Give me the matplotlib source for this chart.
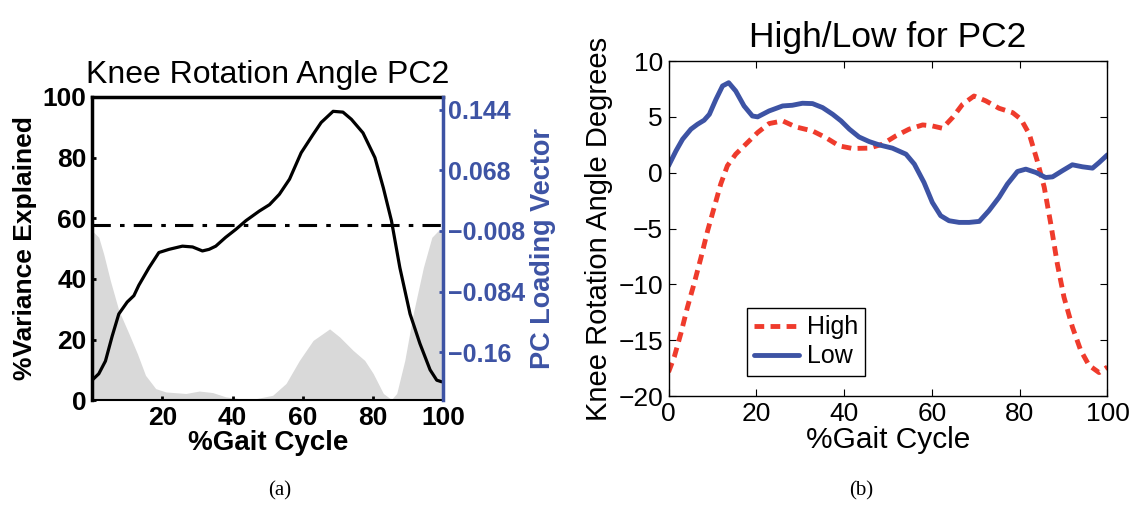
import matplotlib
matplotlib.use('Agg')
import matplotlib.pyplot as plt

plt.rcParams['font.family'] = ['Liberation Sans', 'DejaVu Sans']
plt.rcParams['lines.solid_joinstyle'] = 'round'
plt.rcParams['lines.solid_capstyle'] = 'round'

# panel (a): knee rotation PC2
gait_var = [0, 1.9, 3.3, 5.2, 7.6, 10.5, 12.9, 15.2, 18.1, 21, 26.7, 30.5, 34.3, 38, 41.9,
            46.7, 51.4, 55.2, 59, 62.9, 67.6, 70.5, 74.3, 77.6, 80, 82.9, 85.2, 86.7, 89,
            91.4, 94.3, 96.7, 98.6, 100]
var_explained = [55.9, 53.7, 48.2, 39.4, 29.6, 21.9, 15.3, 8.2, 3.8, 2.7, 2.2, 3.0, 2.5, 1.1, 0.5,
                 0.5, 1.6, 5.5, 13.1, 19.7, 23.5, 20.8, 16.4, 13.1, 8.8, 2.2, 0.2, 2.2, 13.1,
                 28.5, 43.8, 53.7, 56, 56]

gait_load = [0, 1.9, 3.8, 5.7, 7.6, 10, 11.9, 13.3, 16.2, 19, 21.9, 25.7, 28.6, 31.4, 33.3,
             35.2, 38, 40.9, 43.8, 47.6, 50.5, 53.3, 56.2, 59.5, 62.9, 65.2, 68.6, 71.4, 73.8,
             77.1, 80.5, 82.9, 85.2, 87.6, 90.5, 93.3, 96.2, 98.1, 99.5]
loading = [-0.195, -0.187, -0.171, -0.140, -0.112, -0.097, -0.089, -0.076, -0.054, -0.035,
           -0.031, -0.027, -0.028, -0.033, -0.031, -0.027, -0.016, -0.006, 0.005, 0.017,
           0.025, 0.038, 0.057, 0.090, 0.113, 0.128, 0.142, 0.141, 0.132, 0.115, 0.084,
           0.046, 0.005, -0.054, -0.112, -0.149, -0.182, -0.195, -0.197]
load_ticks = [0.144, 0.068, -0.008, -0.084, -0.16]
load_labels = ['0.144', '0.068', '\u22120.008', '\u22120.084', '\u22120.16']

# panel (b): high / low
gait_high = [0, 1.3, 2.8, 4.3, 5.8, 7.4, 8.9, 10.4, 11.9, 13.4, 15.3, 17.6, 20.3, 22.9, 26,
             29, 32.8, 35.8, 38.9, 41.9, 45.7, 48.7, 51.8, 54.8, 57.9, 60.1, 62.4, 64.7, 67,
             69.6, 72.3, 75.3, 78.4, 80.3, 82.2, 84, 85.6, 87.1, 88.6, 90.1, 92, 93.9, 95.8,
             98.1, 100]
high = [-17.85, -16.5, -14.4, -12.05, -9.96, -7.58, -5.2, -3.1, -1.0, 0.62, 1.66, 2.55, 3.6,
        4.4, 4.64, 4.1, 3.74, 3.15, 2.4, 2.17, 2.2, 2.55, 3.3, 3.9, 4.28, 4.19, 3.98, 4.94,
        6.13, 6.87, 6.43, 5.77, 5.38, 4.79, 3.45, 1.07, -1.3, -4.6, -8.2, -11.15, -13.8,
        -15.9, -17.25, -17.9, -17.4]
gait_low = [0, 1.7, 3.2, 5.1, 6.6, 8.1, 9.3, 10.8, 12.3, 13.7, 15.3, 17.2, 19.1, 20.3, 22.9,
            26, 28.2, 30.5, 32.8, 35.1, 37.4, 39.3, 41.2, 43.4, 45.7, 48, 51, 54.1, 56, 58.2,
            60.1, 62, 63.9, 66.2, 68.5, 70.8, 73, 75.3, 77.2, 79.5, 81.4, 83.7, 85.9, 87.5,
            89.7, 92, 94.3, 96.6, 98.1, 100]
low = [0.62, 1.96, 3.0, 3.9, 4.34, 4.7, 5.23, 6.57, 7.77, 8.06, 7.32, 5.98, 5.08, 5.0, 5.53,
       5.98, 6.04, 6.22, 6.19, 5.83, 5.23, 4.64, 3.9, 3.2, 2.79, 2.49, 2.2, 1.66, 0.77, -0.87,
       -2.66, -3.85, -4.3, -4.45, -4.45, -4.36, -3.4, -2.21, -1.02, 0.11, 0.32, 0.02, -0.43,
       -0.37, 0.17, 0.71, 0.53, 0.41, 0.91, 1.6]

blue = '#3d53a4'
red = '#ef3b2c'

fig = plt.figure(figsize=(11.37, 5.13), dpi=100)

# ---- left panel
ax = fig.add_axes([0.081, 0.220, 0.309, 0.591])
ax.fill_between(gait_var, var_explained, 0, color='#d9d9d9', lw=0)
ax.set_xlim(0, 100)
ax.set_ylim(0, 100)
ax.set_xticks([20, 40, 60, 80, 100])
ax.set_yticks([0, 20, 40, 60, 80, 100])
ax.tick_params(direction='in', length=3, width=2, labelsize=19, pad=4)
for t in ax.get_xticklabels() + ax.get_yticklabels():
    t.set_fontweight('bold')
ax.spines['right'].set_visible(False)
ax.spines['left'].set_linewidth(2.5)
ax.spines['top'].set_linewidth(2.5)
ax.spines['bottom'].set_linewidth(1.5)
ax.set_xlabel('%Gait Cycle', fontsize=20, fontweight='bold', labelpad=0)
ax.set_ylabel('%Variance Explained', fontsize=19, fontweight='bold', labelpad=4)
ax.set_title('Knee Rotation Angle PC2', fontsize=23, pad=10)

ax2 = ax.twinx()
ax2.plot(gait_load, loading, color='black', lw=2.3)
ax2.axhline(0, color='black', lw=2.2, ls=(0, (6, 3, 1.5, 3)))
ax2.set_ylim(-0.22, 0.16)
ax2.set_yticks(load_ticks)
ax2.set_yticklabels(load_labels)
ax2.tick_params(direction='in', length=3, width=2, colors=blue, labelsize=18, pad=3)
for t in ax2.get_yticklabels():
    t.set_fontweight('bold')
for s in ['left', 'top', 'bottom']:
    ax2.spines[s].set_visible(False)
ax2.spines['right'].set_color(blue)
ax2.spines['right'].set_linewidth(2.5)
ax2.set_ylabel('PC Loading Vector', fontsize=19.5, fontweight='bold', color=blue, labelpad=4)

# ---- right panel
bx = fig.add_axes([0.588, 0.228, 0.386, 0.653])
bx.plot(gait_high, high, color=red, lw=3.5, ls=(0, (2, 1.3)), label='High')
bx.plot(gait_low, low, color=blue, lw=3.5, label='Low')
bx.set_xlim(0, 100)
bx.set_ylim(-20, 10)
bx.set_xticks([0, 20, 40, 60, 80, 100])
bx.set_yticks([-20, -15, -10, -5, 0, 5, 10])
bx.set_yticklabels(['\u221220', '\u221215', '\u221210', '\u22125', '0', '5', '10'])
bx.tick_params(direction='in', length=5, width=0.8, labelsize=19, top=True, right=True, pad=4)
for s in bx.spines.values():
    s.set_linewidth(1)
bx.set_xlabel('%Gait Cycle', fontsize=21.5, labelpad=0)
bx.set_ylabel('Knee Rotation Angle Degrees', fontsize=21, labelpad=4)
bx.set_title('High/Low for PC2', fontsize=25.5, pad=10)
leg = bx.legend(loc='lower left', bbox_to_anchor=(0.178, 0.06), fontsize=18, fancybox=False,
                framealpha=1, edgecolor='black', handlelength=1.8, handletextpad=0.3,
                borderpad=0.3, labelspacing=0.2, borderaxespad=0)
leg.get_frame().set_linewidth(1)

fig.text(0.246, 0.035, '(a)', fontsize=15, family='Liberation Serif', ha='center')
fig.text(0.757, 0.035, '(b)', fontsize=15, family='Liberation Serif', ha='center')

fig.savefig('out.png', dpi=100)
